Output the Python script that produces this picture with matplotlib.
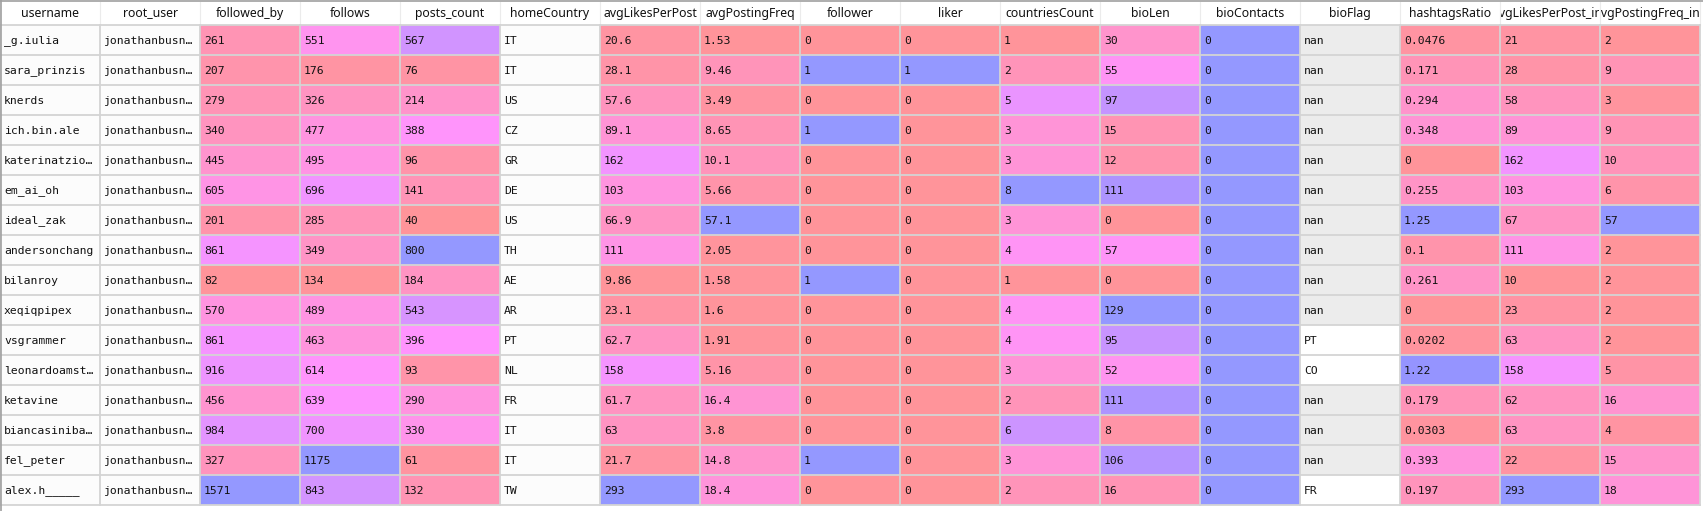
"""Spyder-style DataFrame viewer snapshot, redrawn with matplotlib."""
import colorsys

import matplotlib
matplotlib.use("Agg")
import matplotlib.pyplot as plt
from matplotlib.patches import Rectangle

# ---- data (as displayed) ----
columns = ["username", "root_user", "followed_by", "follows", "posts_count",
           "homeCountry", "avgLikesPerPost", "avgPostingFreq", "follower", "liker",
           "countriesCount", "bioLen", "bioContacts", "bioFlag", "hashtagsRatio",
           "avgLikesPerPost_int", "avgPostingFreq_int"]

username = ["_g.iulia", "sara_prinzis", "knerds", "ich.bin.ale", "katerinatzio…",
            "em_ai_oh", "ideal_zak", "andersonchang", "bilanroy", "xeqiqpipex",
            "vsgrammer", "leonardoamst…", "ketavine", "biancasiniba…", "fel_peter",
            "alex.h_____"]
root_user = ["jonathanbusn…"] * 16
followed_by = [261, 207, 279, 340, 445, 605, 201, 861, 82, 570, 861, 916, 456, 984, 327, 1571]
follows = [551, 176, 326, 477, 495, 696, 285, 349, 134, 489, 463, 614, 639, 700, 1175, 843]
posts_count = [567, 76, 214, 388, 96, 141, 40, 800, 184, 543, 396, 93, 290, 330, 61, 132]
home_country = ["IT", "IT", "US", "CZ", "GR", "DE", "US", "TH", "AE", "AR", "PT", "NL",
                "FR", "IT", "IT", "TW"]
avg_likes = [20.6, 28.1, 57.6, 89.1, 162, 103, 66.9, 111, 9.86, 23.1, 62.7, 158,
             61.7, 63, 21.7, 293]
avg_freq = [1.53, 9.46, 3.49, 8.65, 10.1, 5.66, 57.1, 2.05, 1.58, 1.6, 1.91, 5.16,
            16.4, 3.8, 14.8, 18.4]
follower = [0, 1, 0, 1, 0, 0, 0, 0, 1, 0, 0, 0, 0, 0, 1, 0]
liker = [0, 1, 0, 0, 0, 0, 0, 0, 0, 0, 0, 0, 0, 0, 0, 0]
countries_count = [1, 2, 5, 3, 3, 8, 3, 4, 1, 4, 4, 3, 2, 6, 3, 2]
bio_len = [30, 55, 97, 15, 12, 111, 0, 57, 0, 129, 95, 52, 111, 8, 106, 16]
bio_contacts = [0] * 16
bio_flag = [None] * 10 + ["PT", "CO", None, None, None, "FR"]
hashtags_ratio = [0.0476, 0.171, 0.294, 0.348, 0, 0.255, 1.25, 0.1, 0.261, 0,
                  0.0202, 1.22, 0.179, 0.0303, 0.393, 0.197]
avg_likes_int = [21, 28, 58, 89, 162, 103, 67, 111, 10, 23, 63, 158, 62, 63, 22, 293]
avg_freq_int = [2, 9, 3, 9, 10, 6, 57, 2, 2, 2, 2, 5, 16, 4, 15, 18]

table = [username, root_user, followed_by, follows, posts_count, home_country,
         avg_likes, avg_freq, follower, liker, countries_count, bio_len,
         bio_contacts, bio_flag, hashtags_ratio, avg_likes_int, avg_freq_int]

# ---- layout ----
W, H = 1703, 511
COL_W = 100
HEAD_TOP, HEAD_H = 2, 23
ROW_H = 30
GRID = "#d4d4d4"


def fmt(v):
    if isinstance(v, str):
        return v
    if v is None:
        return "nan"
    if isinstance(v, int):
        return str(v)
    return f"{v:.3g}"


def num_color(v, vmin, vmax):
    # spyder's dataframe editor: hue 0.66 (max) .. 0.99 (min), alpha 0.6 on white
    diff = (vmax - vmin) or 1.0
    hue = 0.66 + 0.33 * (vmax - v) / diff
    r, g, b = colorsys.hsv_to_rgb(hue, 0.7, 1.0)
    return tuple(1 - 0.6 * (1 - c) for c in (r, g, b))


fig = plt.figure(figsize=(W / 100, H / 100), dpi=100)
ax = fig.add_axes([0, 0, 1, 1])
ax.set_xlim(0, W)
ax.set_ylim(H, 0)
ax.axis("off")
fig.patch.set_facecolor("#ffffff")

n_rows = len(username)
for ci, (name, col) in enumerate(zip(columns, table)):
    x0 = ci * COL_W
    # header, centred and clipped to its cell like the Qt header view
    ax.add_patch(Rectangle((x0, HEAD_TOP), COL_W, HEAD_H, facecolor="white", edgecolor="none"))
    clip = Rectangle((x0 + 1, HEAD_TOP), COL_W - 2, HEAD_H, transform=ax.transData)
    t = ax.text(x0 + COL_W / 2, HEAD_TOP + HEAD_H / 2, name, ha="center", va="center",
                family="Noto Sans", fontsize=8.8, color="#111111", clip_on=True)
    t.set_clip_path(clip)

    numeric = all(isinstance(v, (int, float)) for v in col)
    if numeric:
        vmin, vmax = min(col), max(col)
    for ri, v in enumerate(col):
        y0 = HEAD_TOP + HEAD_H + ri * ROW_H
        if numeric:
            fc = num_color(v, vmin, vmax)
        elif v is None:
            fc = "#ececec"
        elif name == "bioFlag":
            fc = "#ffffff"
        else:
            fc = "#fcfcfc"
        ax.add_patch(Rectangle((x0, y0), COL_W, ROW_H, facecolor=fc, edgecolor="none"))
        ax.text(x0 + 4, y0 + ROW_H / 2 + 0.5, fmt(v), ha="left", va="center",
                family="DejaVu Sans Mono", fontsize=8.2, color="#111111")

# grid lines
body_top = HEAD_TOP + HEAD_H
body_bot = body_top + n_rows * ROW_H
for ci in range(len(columns) + 1):
    x = ci * COL_W
    ax.plot([x, x], [HEAD_TOP, body_top], color="#ebebeb", lw=0.8)
    ax.plot([x, x], [body_top, body_bot], color=GRID, lw=1.3)
for ri in range(n_rows + 1):
    y = body_top + ri * ROW_H
    ax.plot([0, len(columns) * COL_W], [y, y], color=GRID, lw=1.3)

# outer frame
ax.plot([0, W], [1, 1], color="#a0a0a0", lw=1.2)
ax.plot([0.6, 0.6], [0, H], color="#a0a0a0", lw=1.2)

fig.savefig("out.png", dpi=100)
